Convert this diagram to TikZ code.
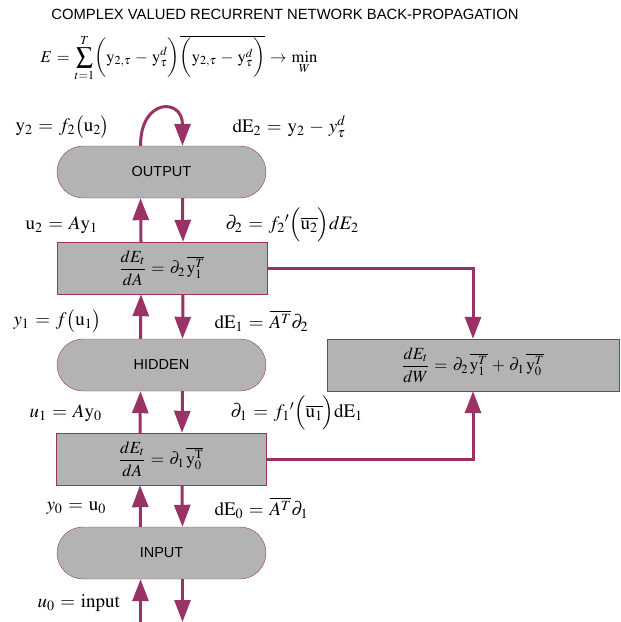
\documentclass[tikz,border=0pt]{standalone}
\usepackage{amsmath}
\usepackage{mathptmx}
\usepackage{fontspec}
\setmainfont{Liberation Serif}
\setsansfont{Liberation Sans}
\usetikzlibrary{arrows.meta}
\usetikzlibrary{calc}

\definecolor{plum}{RGB}{153,51,102}
\definecolor{boxgray}{RGB}{179,179,179}

\thickmuskip=5.5mu plus 2mu
\medmuskip=4.5mu plus 2mu

\begin{document}
\begin{tikzpicture}[
    x=1pt,
    y=-1pt,
    >={Triangle[length=22pt,width=16pt]},
    every node/.style={font=\fontsize{19}{22}\selectfont},
    layer/.style={
        draw=plum,
        fill=boxgray,
        rounded corners=26pt,
        minimum width=209pt,
        minimum height=52pt,
        font=\sffamily\fontsize{14.5}{16}\selectfont
    },
    grad/.style={
        draw=plum,
        fill=boxgray,
        minimum width=210pt,
        minimum height=52pt,
        inner sep=0pt,
        font=\fontsize{17}{19}\selectfont
    },
    arrow/.style={->, line width=3pt, draw=plum}
]
\useasboundingbox (0,0) rectangle (621,622);

% Title and error
\node[font=\sffamily\fontsize{14.8}{17}\selectfont] (title) at (285,14) {COMPLEX VALUED RECURRENT NETWORK BACK-PROPAGATION};
\node[anchor=west, font=\fontsize{16.5}{19}\selectfont] (error) at (37,58) {$E=\displaystyle\sum_{t=1}^{T}\biggl(\mathrm{y}_{2,\tau}-\mathrm{y}_{\tau}^{d}\biggr)\overline{\biggl(\mathrm{y}_{2,\tau}-\mathrm{y}_{\tau}^{d}\biggr)}\rightarrow\min_{W}$};

% Main flow
\node[layer] (output) at (161.5,172) {OUTPUT};
\node[grad] (dA2) at (162,268) {$\dfrac{dE_t}{dA}=\partial_2\,\overline{\mathrm{y}_1^T}$};
\node[layer] (hidden) at (161.5,365) {HIDDEN};
\node[grad] (dA1) at (161,459) {$\dfrac{dE_t}{dA}=\partial_1\,\overline{\mathrm{y}_0^{\mathrm{T}}}$};
\node[layer] (input) at (161.5,553) {INPUT};

\node[grad, minimum width=292pt] (dW) at (473,365) {$\dfrac{dE_t}{dW}=\partial_2\,\overline{\mathrm{y}_1^T}+\partial_1\,\overline{\mathrm{y}_0^T}$};

\coordinate (bottom) at (161.5,622);

% Labels
\node[anchor=west] (y2) at (12,127) {$\mathrm{y}_2=f_2\bigl(\mathrm{u}_2\bigr)$};
\node[anchor=west] (dE2) at (229,127) {$\mathrm{dE}_2=\mathrm{y}_2-y_\tau^d$};
\node[anchor=west] (u2) at (22,225) {$\mathrm{u}_2=A\mathrm{y}_1$};
\node[anchor=west] (d2) at (222,225) {$\partial_2={f_2}'\Bigl(\overline{\mathrm{u}_2}\Bigr)dE_2$};
\node[anchor=west] (y1) at (10,321) {$y_1=f\bigl(\mathrm{u}_1\bigr)$};
\node[anchor=west] (dE1) at (211,321) {$\mathrm{dE}_1=\overline{A^T}\partial_2$};
\node[anchor=west] (u1) at (26,413) {$u_1=A\mathrm{y}_0$};
\node[anchor=west] (d1) at (227,413) {$\partial_1={f_1}'\Bigl(\overline{\mathrm{u}_1}\Bigr)\mathrm{dE}_1$};
\node[anchor=west] (y0) at (43,508) {$y_0=\mathrm{u}_0$};
\node[anchor=west] (dE0) at (211,508) {$\mathrm{dE}_0=\overline{A^T}\partial_1$};
\node[anchor=west] (u0) at (34,603) {$u_0=\mathrm{input}$};

% Arrows
\draw[arrow] ([xshift=-21pt]output.north) .. controls +(0,-48) and +(0,-48) .. ([xshift=21pt]output.north);

\draw[arrow] ([xshift=-21pt]dA2.north) -- ([xshift=-21pt]output.south);
\draw[arrow] ([xshift=21pt]output.south) -- ([xshift=21pt]dA2.north);
\draw[arrow] ([xshift=-21pt]hidden.north) -- ([xshift=-21pt]dA2.south);
\draw[arrow] ([xshift=21pt]dA2.south) -- ([xshift=21pt]hidden.north);
\draw[arrow] ([xshift=-21pt]dA1.north) -- ([xshift=-21pt]hidden.south);
\draw[arrow] ([xshift=21pt]hidden.south) -- ([xshift=21pt]dA1.north);
\draw[arrow] ([xshift=-21pt]input.north) -- ([xshift=-21pt]dA1.south);
\draw[arrow] ([xshift=21pt]dA1.south) -- ([xshift=21pt]input.north);
\draw[arrow] ([xshift=-21pt]bottom) -- ([xshift=-21pt]input.south);
\draw[arrow] ([xshift=21pt]input.south) -- ([xshift=21pt]bottom);

\draw[arrow] (dA2.east) -| (dW.north);
\draw[arrow] (dA1.east) -| (dW.south);

\end{tikzpicture}
\end{document}
